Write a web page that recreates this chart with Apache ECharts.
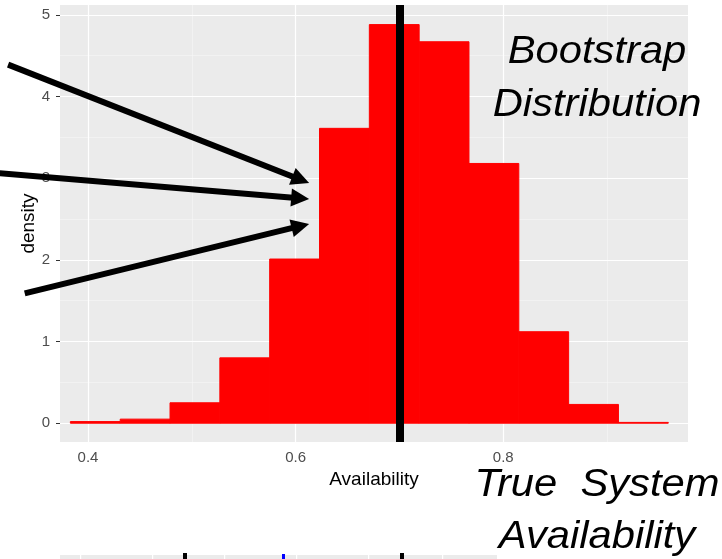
<!DOCTYPE html>
<html><head><meta charset="utf-8">
<script src="https://cdn.jsdelivr.net/npm/echarts@6/dist/echarts.min.js"></script>
<style>html,body{margin:0;padding:0;background:#fff}#c{width:722px;height:559px}</style>
</head><body><div id="c"></div>
<script>
// ---- data ----
const binEdges = [0.383, 0.431, 0.479, 0.527, 0.575, 0.623, 0.671, 0.719, 0.767, 0.815, 0.863, 0.911, 0.959];
const densities = [0.02, 0.05, 0.25, 0.80, 2.01, 3.61, 4.88, 4.67, 3.18, 1.12, 0.23, 0.01];
const trueValue = 0.704;
const xTicks = [0.4, 0.6, 0.8];
const xMinor = [0.5, 0.7, 0.9];
const yTicks = [0, 1, 2, 3, 4, 5];
const yMinor = [0.5, 1.5, 2.5, 3.5, 4.5];
const xTitle = 'Availability';
const yTitle = 'density';
const noteTop = ['Bootstrap', 'Distribution'];
const noteBottom = ['True  System', 'Availability'];
// arrows in data coordinates: [start, tip]
const arrowStarts = [[0.323, 4.39], [0.315, 3.06], [0.339, 1.59]];
const arrowTips = [[0.613, 2.94], [0.613, 2.745], [0.613, 2.44]];

const FONT = '"Liberation Sans", Arial, sans-serif';
const chart = echarts.init(document.getElementById('c'), null, {renderer: 'canvas'});

const xMajorLines = xTicks.map(v => ({xAxis: v, lineStyle: {width: 1.2, color: '#ffffff', type: 'solid'}}));
const xMinorLines = xMinor.map(v => ({xAxis: v, lineStyle: {width: 0.6, color: '#f7f7f7', type: 'solid'}}));
const yMajorLines = yTicks.map(v => ({yAxis: v, lineStyle: {width: 1.2, color: '#ffffff', type: 'solid'}}));
const yMinorLines = yMinor.map(v => ({yAxis: v, lineStyle: {width: 0.6, color: '#f7f7f7', type: 'solid'}}));

const option = {
  animation: false,
  backgroundColor: '#ffffff',
  textStyle: {fontFamily: FONT},
  grid: {left: 60, right: 34, top: 5, bottom: 117, show: true, backgroundColor: '#EBEBEB', borderWidth: 0},
  xAxis: {
    type: 'value', min: 0.373, max: 0.978,
    name: xTitle, nameLocation: 'middle', nameGap: 26,
    nameTextStyle: {color: '#000000', fontSize: 19, fontFamily: FONT},
    axisLine: {show: false},
    axisTick: {show: true, length: 4, customValues: xTicks, lineStyle: {color: '#333333', width: 1}},
    axisLabel: {customValues: xTicks, color: '#4d4d4d', fontSize: 15, margin: 8, formatter: v => v.toFixed(1)},
    splitLine: {show: false}
  },
  yAxis: {
    type: 'value', min: -0.23, max: 5.12,
    name: yTitle, nameLocation: 'middle', nameGap: 22, nameMoveOverlap: false,
    nameTextStyle: {color: '#000000', fontSize: 19, fontFamily: FONT},
    axisLine: {show: false},
    axisTick: {show: true, length: 4, customValues: yTicks, lineStyle: {color: '#333333', width: 1}},
    axisLabel: {customValues: yTicks, color: '#4d4d4d', fontSize: 15, margin: 10, formatter: v => String(v)},
    splitLine: {show: false}
  },
  series: [
    {
      type: 'line', data: [], silent: true,
      markLine: {silent: true, symbol: 'none', z: 1, label: {show: false}, animation: false,
        data: [].concat(xMinorLines, yMinorLines, xMajorLines, yMajorLines)}
    },
    {
      type: 'custom', z: 3,
      data: densities.map((d, i) => [binEdges[i], binEdges[i + 1], d]),
      encode: {x: [0, 1], y: 2},
      renderItem: function (params, api) {
        const p0 = api.coord([api.value(0), api.value(2)]);
        const p1 = api.coord([api.value(1), 0]);
        return {type: 'rect', shape: {x: p0[0], y: p0[1], width: p1[0] - p0[0], height: Math.max(p1[1] - p0[1], 0.8)},
          style: {fill: '#ff0000', stroke: '#ff0000', lineWidth: 1}};
      },
      markLine: {silent: true, symbol: 'none', z: 10, label: {show: false}, animation: false,
        data: [{xAxis: trueValue, lineStyle: {color: '#000000', width: 8, type: 'solid'}}]}
    }
  ]
};
chart.setOption(option);

// annotations
const graphics = [];
const noteStyle = {fill: '#000', font: 'italic 39px ' + FONT, align: 'center', verticalAlign: 'middle'};
[[noteTop[0], 52], [noteTop[1], 105], [noteBottom[0], 485], [noteBottom[1], 537]].forEach(([t, y]) => {
  graphics.push({type: 'text', x: 597, y: y, scaleX: 1.07, z: 50, style: Object.assign({text: t}, noteStyle)});
});
arrowStarts.forEach((s, i) => {
  const a = chart.convertToPixel({gridIndex: 0}, s);
  const b = chart.convertToPixel({gridIndex: 0}, arrowTips[i]);
  const dx = b[0] - a[0], dy = b[1] - a[1];
  const L = Math.sqrt(dx * dx + dy * dy), ux = dx / L, uy = dy / L;
  const hl = 18, hw = 9;
  const bx = b[0] - ux * hl, by = b[1] - uy * hl;
  graphics.push({type: 'line', z: 40, shape: {x1: a[0], y1: a[1], x2: bx + ux * 2, y2: by + uy * 2},
    style: {stroke: '#000', lineWidth: 6}});
  graphics.push({type: 'polygon', z: 40, shape: {points: [[b[0], b[1]], [bx - uy * hw, by + ux * hw], [bx + uy * hw, by - ux * hw]]},
    style: {fill: '#000'}});
});
// cropped neighbouring panel at the bottom edge
graphics.push({type: 'rect', z: 5, shape: {x: 60, y: 555, width: 437, height: 10}, style: {fill: '#EBEBEB'}});
[80, 152, 224, 296, 368, 442].forEach(x => graphics.push({type: 'rect', z: 6, shape: {x: x, y: 555, width: 1.2, height: 10}, style: {fill: '#fff'}}));
graphics.push({type: 'rect', z: 7, shape: {x: 183, y: 553, width: 4, height: 10}, style: {fill: '#000'}});
graphics.push({type: 'rect', z: 7, shape: {x: 400, y: 553, width: 4, height: 10}, style: {fill: '#000'}});
graphics.push({type: 'rect', z: 7, shape: {x: 282, y: 554, width: 3, height: 10}, style: {fill: '#0000ff'}});
chart.setOption({graphic: graphics});
</script>
</body></html>
